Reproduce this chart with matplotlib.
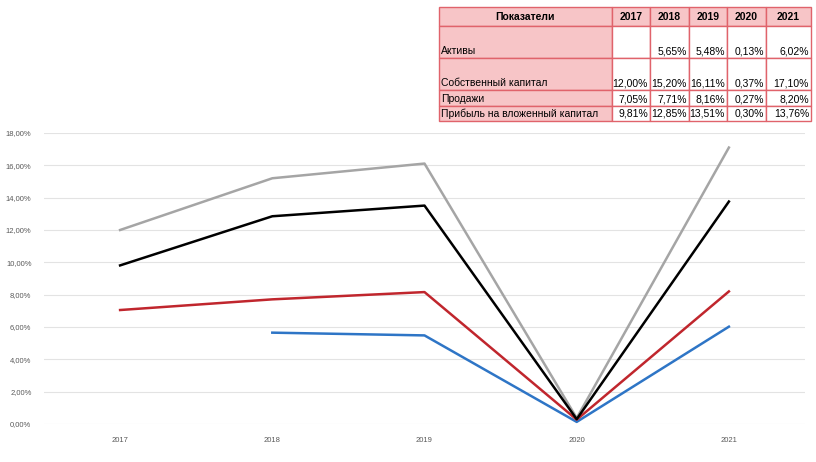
import numpy as np
import matplotlib.pyplot as plt
from matplotlib.patches import Rectangle
from matplotlib.ticker import FuncFormatter

plt.rcParams['font.family'] = ['Liberation Sans', 'DejaVu Sans']

years = ['2017', '2018', '2019', '2020', '2021']
aktivy = [np.nan, 5.65, 5.48, 0.13, 6.02]
kapital = [12.00, 15.20, 16.11, 0.37, 17.10]
prodazhi = [7.05, 7.71, 8.16, 0.27, 8.20]
pribyl = [9.81, 12.85, 13.51, 0.30, 13.76]

row_names = ['Активы', 'Собственный капитал', 'Продажи', 'Прибыль на вложенный капитал']
rows = [aktivy, kapital, prodazhi, pribyl]
colors = ['#2e75c6', '#a5a5a5', '#c0262d', '#000000']

fig = plt.figure(figsize=(8.16, 4.62), dpi=100)
ax = fig.add_axes([44 / 816, 1 - 424 / 462, 761 / 816, 291 / 462])

x = np.arange(len(years))
for vals, c in zip(rows, colors):
    ax.plot(x, vals, color=c, lw=1.8, solid_joinstyle='round')

ax.set_xlim(-0.5, len(years) - 0.5)
ax.set_ylim(0, 18)
ax.set_yticks(np.arange(0, 18.01, 2))
ax.yaxis.set_major_formatter(FuncFormatter(lambda v, p: f'{v:.2f}%'.replace('.', ',')))
ax.set_xticks(x)
ax.set_xticklabels(years)
ax.grid(axis='y', color='#e3e3e3', lw=0.8)
ax.set_axisbelow(True)
for s in ax.spines.values():
    s.set_visible(False)
ax.tick_params(length=0, labelsize=5.5, labelcolor='#595959')
ax.tick_params(axis='y', pad=9)
ax.tick_params(axis='x', pad=9)

# таблица показателей
tab = fig.add_axes([0, 0, 1, 1])
tab.set_xlim(0, 816)
tab.set_ylim(462, 0)
tab.axis('off')

col_x = [439, 612, 650, 689, 727, 766, 811]
row_y = [7, 26, 58, 90, 106, 121]
pink = '#f7c5c7'
edge = '#e0636b'

header = ['Показатели'] + years
for j in range(6):
    tab.add_patch(Rectangle((col_x[j], row_y[0]), col_x[j + 1] - col_x[j], row_y[1] - row_y[0],
                            facecolor=pink, edgecolor=edge, lw=1))
    tab.text((col_x[j] + col_x[j + 1]) / 2, (row_y[0] + row_y[1]) / 2 + 0.5, header[j],
             ha='center', va='center', fontsize=7.5, fontweight='bold')

for i, (name, vals) in enumerate(zip(row_names, rows)):
    y0, y1 = row_y[i + 1], row_y[i + 2]
    tab.add_patch(Rectangle((col_x[0], y0), col_x[1] - col_x[0], y1 - y0,
                            facecolor=pink, edgecolor=edge, lw=1))
    tab.text(col_x[0] + 2, y1 - 2, name, ha='left', va='bottom', fontsize=7.5)
    for j, v in enumerate(vals):
        tab.add_patch(Rectangle((col_x[j + 1], y0), col_x[j + 2] - col_x[j + 1], y1 - y0,
                                facecolor='white', edgecolor=edge, lw=1))
        if not np.isnan(v):
            tab.text(col_x[j + 2] - 2, y1 - 2, f'{v:.2f}%'.replace('.', ','),
                     ha='right', va='bottom', fontsize=7.5)

fig.savefig('out.png', dpi=100)
